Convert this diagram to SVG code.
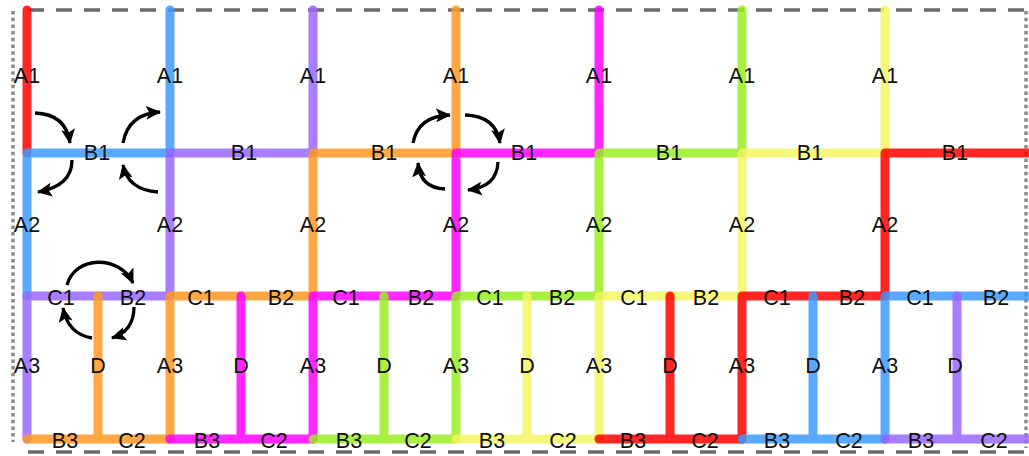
<svg xmlns="http://www.w3.org/2000/svg" width="1029" height="456" viewBox="0 0 1029 456">
<style>
.ln{fill:none;stroke-width:9;stroke-linecap:round;stroke-linejoin:round;stroke-opacity:0.85}
.r{stroke:#FF0000}.b{stroke:#3C9BFF}.p{stroke:#9966FF}.o{stroke:#FF9922}.m{stroke:#FF00FF}.g{stroke:#99EE22}.y{stroke:#F5F560}
text{font-family:"Liberation Sans",Arial,sans-serif;font-size:21.5px;fill:#111;text-anchor:middle}
.arr{fill:none;stroke:#000;stroke-width:3.3;marker-end:url(#ah)}
.dash{fill:none;stroke:#6a6a6a;stroke-width:3.5;stroke-dasharray:16 12}
.dot{fill:none;stroke:#8a8a8a;stroke-width:3.5;stroke-dasharray:3.5 3.2}
</style>
<defs>
<marker id="ah" markerUnits="userSpaceOnUse" viewBox="0 0 14 13" refX="13" refY="6.5" markerWidth="15" markerHeight="14" orient="auto">
<path d="M0,0 L14,6.5 L0,13 L3,6.5 z" fill="#000"/>
</marker>
</defs>
<g id="frame">
<line class="dash" x1="28" y1="10" x2="1028" y2="10"/>
<line class="dash" x1="28" y1="452" x2="1028" y2="452"/>
<line class="dot" x1="13" y1="11" x2="13" y2="442"/>
<line class="dot" x1="1026" y1="11" x2="1026" y2="448"/>
</g>
<g id="cell-1">
<path class="ln r" d="M27,10 V153"/>
<path class="ln b" d="M170,153 H27 V296"/>
<path class="ln p" d="M170,296 H27 V439"/>
<path class="ln o" d="M98,296 V439 M27,439 H170"/>
<text x="27" y="83">A1</text><text x="97" y="160">B1</text><text x="27" y="232">A2</text>
<text x="61" y="305">C1</text><text x="133" y="305">B2</text><text x="27" y="373">A3</text>
<text x="98" y="373">D</text><text x="65" y="448">B3</text><text x="132" y="448">C2</text>
</g>
<g id="cell-2">
<path class="ln b" d="M170,10 V153"/>
<path class="ln p" d="M313,153 H170 V296"/>
<path class="ln o" d="M313,296 H170 V439"/>
<path class="ln m" d="M241,296 V439 M170,439 H313"/>
<text x="170" y="83">A1</text><text x="244" y="160">B1</text><text x="170" y="232">A2</text>
<text x="201" y="305">C1</text><text x="281" y="305">B2</text><text x="170" y="373">A3</text>
<text x="241" y="373">D</text><text x="207" y="448">B3</text><text x="274" y="448">C2</text>
</g>
<g id="cell-3">
<path class="ln p" d="M313,10 V153"/>
<path class="ln o" d="M456,153 H313 V296"/>
<path class="ln m" d="M456,296 H313 V439"/>
<path class="ln g" d="M384,296 V439 M313,439 H456"/>
<text x="313" y="83">A1</text><text x="384" y="160">B1</text><text x="313" y="232">A2</text>
<text x="346" y="305">C1</text><text x="421" y="305">B2</text><text x="313" y="373">A3</text>
<text x="384" y="373">D</text><text x="349" y="448">B3</text><text x="418" y="448">C2</text>
</g>
<g id="cell-4">
<path class="ln o" d="M456,10 V153"/>
<path class="ln m" d="M599,153 H456 V296"/>
<path class="ln g" d="M599,296 H456 V439"/>
<path class="ln y" d="M527,296 V439 M456,439 H599"/>
<text x="456" y="83">A1</text><text x="524" y="160">B1</text><text x="456" y="232">A2</text>
<text x="490" y="305">C1</text><text x="562" y="305">B2</text><text x="456" y="373">A3</text>
<text x="527" y="373">D</text><text x="492" y="448">B3</text><text x="563" y="448">C2</text>
</g>
<g id="cell-5">
<path class="ln m" d="M599,10 V153"/>
<path class="ln g" d="M742,153 H599 V296"/>
<path class="ln y" d="M742,296 H599 V439"/>
<path class="ln r" d="M670,296 V439 M599,439 H742"/>
<text x="599" y="83">A1</text><text x="669" y="160">B1</text><text x="599" y="232">A2</text>
<text x="634" y="305">C1</text><text x="706" y="305">B2</text><text x="599" y="373">A3</text>
<text x="670" y="373">D</text><text x="633" y="448">B3</text><text x="705" y="448">C2</text>
</g>
<g id="cell-6">
<path class="ln g" d="M742,10 V153"/>
<path class="ln y" d="M885,153 H742 V296"/>
<path class="ln r" d="M885,296 H742 V439"/>
<path class="ln b" d="M813,296 V439 M742,439 H885"/>
<text x="742" y="83">A1</text><text x="810" y="160">B1</text><text x="742" y="232">A2</text>
<text x="777" y="305">C1</text><text x="852" y="305">B2</text><text x="742" y="373">A3</text>
<text x="813" y="373">D</text><text x="777" y="448">B3</text><text x="849" y="448">C2</text>
</g>
<g id="cell-7">
<path class="ln y" d="M885,10 V153"/>
<path class="ln r" d="M1029,153 H885 V296"/>
<path class="ln b" d="M1029,296 H885 V439"/>
<path class="ln p" d="M957,296 V439 M885,439 H1029"/>
<text x="885" y="83">A1</text><text x="955" y="160">B1</text><text x="885" y="232">A2</text>
<text x="920" y="305">C1</text><text x="996" y="305">B2</text><text x="885" y="373">A3</text>
<text x="955" y="373">D</text><text x="921" y="448">B3</text><text x="994" y="448">C2</text>
</g>
<g id="connectors">
<path class="arr" d="M35,113 Q66,114 70,143"/>
<path class="arr" d="M123,143 Q128,114 160,112"/>
<path class="arr" d="M72,160 Q72,186 38,192"/>
<path class="arr" d="M158,192 Q128,190 123,165"/>
<path class="arr" d="M413,143 Q418,116 450,115"/>
<path class="arr" d="M465,115 Q496,116 500,143"/>
<path class="arr" d="M498,162 Q497,187 468,190"/>
<path class="arr" d="M445,189 Q420,188 418,163"/>
<path class="arr" d="M67,285 C75,255 120,255 133,283"/>
<path class="arr" d="M134,307 Q134,331 112,338"/>
<path class="arr" d="M92,338 Q68,334 63,308"/>
</g>
</svg>
